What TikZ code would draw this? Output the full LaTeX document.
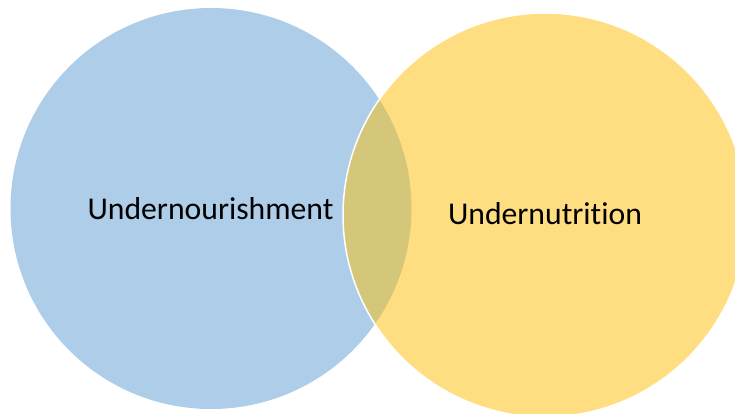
\documentclass[tikz,border=0pt]{standalone}
\usepackage{fontspec}
\setmainfont{Carlito}[Ligatures={NoCommon}]
\definecolor{blueC}{RGB}{174,205,233}
\definecolor{yellowC}{RGB}{255,222,129}
\definecolor{overC}{RGB}{212,199,122}
\tikzset{lbl/.style={font=\fontsize{31.7}{38}\selectfont, text=black, inner sep=0pt}}
\begin{document}
\begin{tikzpicture}[x=1pt,y=-1pt]
\useasboundingbox (0,0) rectangle (735,413);
\begin{scope}
\clip (0,0) rectangle (735,413);
\fill[blueC] (211,208.5) circle (200.5);
\fill[yellowC] (545,215) circle (202);
\begin{scope}
\clip (211,208.5) circle (200.5);
\fill[overC] (545,215) circle (202);
\end{scope}
\draw[white, line width=1.5pt] (545,215) circle (202);
\end{scope}
\node[lbl] (a) at (210.5,209) {Undernourishment};
\node[lbl] (b) at (545,214) {Undernutrition};
\end{tikzpicture}
\end{document}
